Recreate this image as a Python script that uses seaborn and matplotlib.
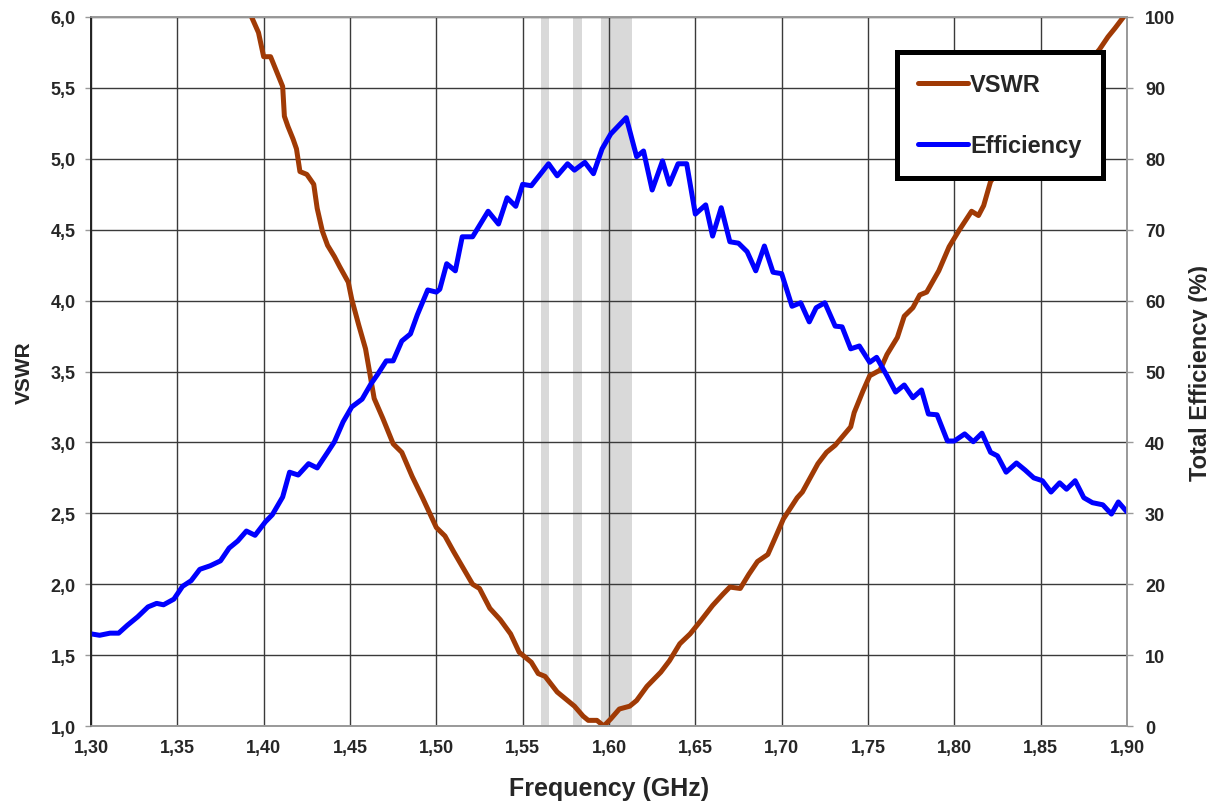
#!/usr/bin/env python3
"""
VSWR and total efficiency vs frequency, two y axes.
"""

import matplotlib
matplotlib.use("Agg")
import matplotlib.pyplot as plt
from matplotlib.ticker import FuncFormatter, MultipleLocator
import seaborn as sns

# VSWR curve (left axis)
vswr_freq = [1.393, 1.397, 1.400, 1.404, 1.407, 1.411, 1.412, 1.414, 1.417, 1.419,
             1.421, 1.425, 1.429, 1.431, 1.434, 1.437, 1.441, 1.444, 1.449, 1.451,
             1.455, 1.459, 1.464, 1.469, 1.475, 1.480, 1.486, 1.492, 1.500, 1.505,
             1.510, 1.521, 1.525, 1.531, 1.537, 1.543, 1.548, 1.555, 1.559, 1.563,
             1.570, 1.575, 1.580, 1.585, 1.588, 1.593, 1.597, 1.601, 1.606, 1.612,
             1.616, 1.622, 1.630, 1.635, 1.641, 1.647, 1.653, 1.660, 1.666, 1.670,
             1.676, 1.681, 1.686, 1.692, 1.696, 1.701, 1.709, 1.712, 1.721, 1.726,
             1.731, 1.740, 1.742, 1.747, 1.751, 1.757, 1.761, 1.767, 1.771, 1.776,
             1.780, 1.784, 1.791, 1.797, 1.803, 1.810, 1.814, 1.817, 1.821, 1.832,
             1.850, 1.867, 1.884, 1.889, 1.893, 1.898]
vswr_vals = [6.00, 5.89, 5.72, 5.72, 5.63, 5.51, 5.30, 5.23, 5.14, 5.07,
             4.91, 4.89, 4.82, 4.65, 4.49, 4.39, 4.31, 4.24, 4.13, 4.01,
             3.83, 3.66, 3.31, 3.17, 2.99, 2.93, 2.76, 2.61, 2.40, 2.34,
             2.23, 2.00, 1.97, 1.83, 1.75, 1.65, 1.52, 1.45, 1.37, 1.35,
             1.24, 1.19, 1.14, 1.07, 1.04, 1.04, 1.00, 1.05, 1.12, 1.14,
             1.18, 1.28, 1.38, 1.46, 1.58, 1.65, 1.74, 1.85, 1.93, 1.98,
             1.97, 2.07, 2.16, 2.21, 2.32, 2.46, 2.61, 2.65, 2.85, 2.93,
             2.98, 3.11, 3.21, 3.36, 3.47, 3.51, 3.62, 3.74, 3.89, 3.95,
             4.04, 4.06, 4.21, 4.38, 4.50, 4.63, 4.60, 4.67, 4.84, 5.01,
             5.28, 5.53, 5.77, 5.86, 5.92, 6.00]

# Total efficiency curve (right axis, %)
eff_freq = [1.300, 1.305, 1.311, 1.316, 1.321, 1.327, 1.333, 1.338, 1.342, 1.348,
            1.353, 1.358, 1.363, 1.369, 1.375, 1.380, 1.385, 1.390, 1.395, 1.401,
            1.405, 1.411, 1.415, 1.420, 1.426, 1.431, 1.437, 1.441, 1.446, 1.451,
            1.457, 1.462, 1.466, 1.471, 1.475, 1.480, 1.485, 1.489, 1.495, 1.500,
            1.502, 1.506, 1.511, 1.515, 1.521, 1.530, 1.536, 1.541, 1.546, 1.550,
            1.555, 1.565, 1.570, 1.576, 1.580, 1.586, 1.591, 1.596, 1.601, 1.610,
            1.616, 1.620, 1.625, 1.631, 1.635, 1.640, 1.645, 1.650, 1.656, 1.660,
            1.665, 1.670, 1.675, 1.680, 1.685, 1.690, 1.695, 1.700, 1.706, 1.711,
            1.716, 1.720, 1.725, 1.731, 1.735, 1.740, 1.745, 1.751, 1.755, 1.761,
            1.766, 1.771, 1.776, 1.781, 1.785, 1.790, 1.796, 1.800, 1.806, 1.811,
            1.816, 1.821, 1.825, 1.830, 1.836, 1.841, 1.846, 1.851, 1.856, 1.861,
            1.865, 1.870, 1.875, 1.880, 1.886, 1.891, 1.895, 1.900]
eff_vals = [13.0, 12.8, 13.1, 13.1, 14.2, 15.4, 16.8, 17.3, 17.1, 17.9,
            19.7, 20.5, 22.1, 22.6, 23.3, 25.1, 26.1, 27.5, 26.9, 28.8,
            29.8, 32.3, 35.8, 35.4, 37.0, 36.4, 38.6, 40.1, 42.9, 45.0,
            46.1, 48.2, 49.6, 51.5, 51.5, 54.3, 55.3, 58.0, 61.5, 61.2,
            61.6, 65.2, 64.2, 69.0, 69.0, 72.6, 70.8, 74.5, 73.3, 76.4,
            76.2, 79.3, 77.6, 79.3, 78.4, 79.5, 77.9, 81.4, 83.5, 85.8,
            80.3, 81.1, 75.6, 79.7, 76.4, 79.3, 79.3, 72.2, 73.5, 69.1,
            73.1, 68.3, 68.1, 66.9, 64.2, 67.7, 64.0, 63.8, 59.2, 59.7,
            57.0, 59.0, 59.7, 56.4, 56.3, 53.2, 53.6, 51.3, 52.0, 49.4,
            47.1, 48.1, 46.3, 47.4, 44.0, 43.9, 40.2, 40.2, 41.2, 40.1,
            41.3, 38.6, 38.1, 35.8, 37.1, 36.1, 35.0, 34.6, 33.0, 34.3,
            33.4, 34.6, 32.2, 31.5, 31.2, 29.9, 31.6, 30.2]

# shaded frequency bands (GHz)
band_start = [1.5604, 1.5793, 1.5954]
band_end = [1.5652, 1.5842, 1.6131]

VSWR_COLOR = "#A03A05"
EFF_COLOR = "#0000FF"


def main():
    sns.set_style("white")
    plt.rcParams["font.family"] = ["Liberation Sans", "DejaVu Sans"]
    plt.rcParams["font.weight"] = "bold"

    fig = plt.figure(figsize=(12.07, 8.03), dpi=100)
    ax = fig.add_axes([0.0754, 0.0946, 0.8583, 0.8830])

    for s, e in zip(band_start, band_end):
        ax.axvspan(s, e, color="#D9D9D9", lw=0, zorder=1)

    sns.lineplot(x=vswr_freq, y=vswr_vals, ax=ax, color=VSWR_COLOR, lw=3.6,
                 estimator=None, label="VSWR", legend=False)

    ax2 = ax.twinx()
    sns.lineplot(x=eff_freq, y=eff_vals, ax=ax2, color=EFF_COLOR, lw=3.6,
                 estimator=None, label="Efficiency", legend=False)

    ax.set_xlim(1.30, 1.90)
    ax.set_ylim(1.0, 6.0)
    ax2.set_ylim(0, 100)
    ax.xaxis.set_major_locator(MultipleLocator(0.05))
    ax.yaxis.set_major_locator(MultipleLocator(0.5))
    ax2.yaxis.set_major_locator(MultipleLocator(10))
    ax.xaxis.set_major_formatter(FuncFormatter(lambda v, p: f"{v:.2f}".replace(".", ",")))
    ax.yaxis.set_major_formatter(FuncFormatter(lambda v, p: f"{v:.1f}".replace(".", ",")))

    ax.grid(True, color="#3a3a3a", lw=1.0)
    ax.set_axisbelow("line")

    for a in (ax, ax2):
        for side in ("top", "right", "bottom"):
            a.spines[side].set_color("#999999")
            a.spines[side].set_linewidth(1.2)
        a.spines["left"].set_color("#222222")
        a.spines["left"].set_linewidth(1.2)

    ax.tick_params(axis="y", direction="out", length=4, width=1, color="#999999",
                   pad=7, labelsize=13, left=True)
    ax.tick_params(axis="x", length=0, pad=9, labelsize=13)
    ax2.tick_params(axis="y", direction="out", length=4, width=1, color="#999999",
                    pad=9, labelsize=13, right=True)
    for lab in ax.get_xticklabels() + ax.get_yticklabels() + ax2.get_yticklabels():
        lab.set_fontweight("bold")

    ax.set_xlabel("Frequency (GHz)", fontsize=18, fontweight="bold", labelpad=15)
    ax.set_ylabel("VSWR", fontsize=15, fontweight="bold", labelpad=12)
    ax2.set_ylabel("Total Efficiency (%)", fontsize=17, fontweight="bold",
                   rotation=90, labelpad=10)

    h1, l1 = ax.get_legend_handles_labels()
    h2, l2 = ax2.get_legend_handles_labels()
    leg = ax2.legend(h1 + h2, l1 + l2, loc="upper left",
                     bbox_to_anchor=(0.778, 0.9506),
                     prop={"weight": "bold", "size": 17},
                     frameon=True, fancybox=False, borderpad=0.9,
                     labelspacing=1.6, handlelength=2.1, handletextpad=0.1,
                     borderaxespad=0)
    leg.get_frame().set_edgecolor("black")
    leg.get_frame().set_linewidth(3.6)
    leg.get_frame().set_facecolor("white")
    leg.get_frame().set_alpha(1)

    fig.savefig("out.png", dpi=100)
    plt.close(fig)


if __name__ == "__main__":
    main()
